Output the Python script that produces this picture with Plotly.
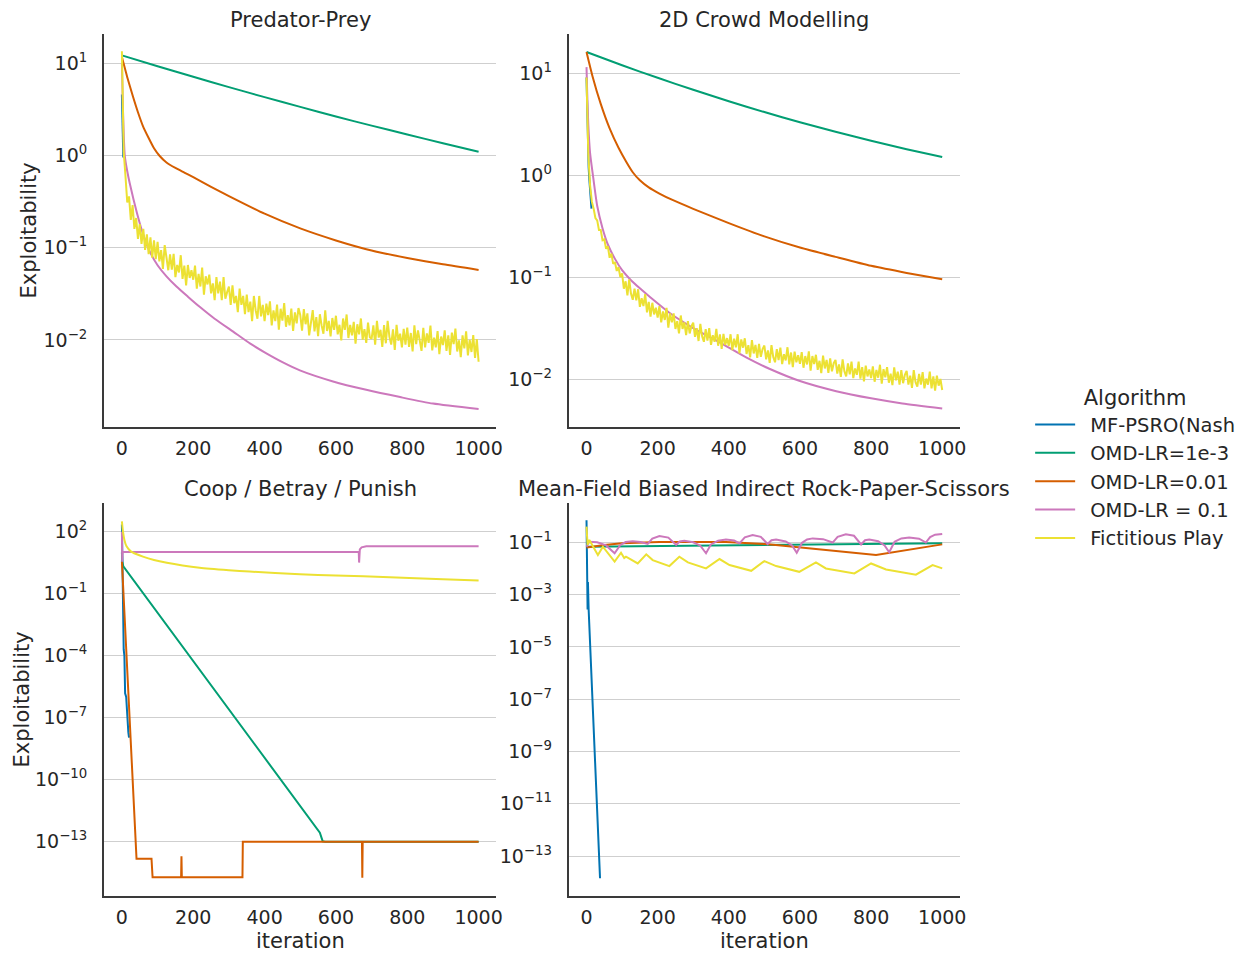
import plotly.graph_objects as go

# ---------------- data ----------------
algorithms = ["MF-PSRO(Nash", "OMD-LR=1e-3", "OMD-LR=0.01", "OMD-LR = 0.1", "Fictitious Play"]
colors = ["#0173b2", "#029e73", "#d55e00", "#cc78bc", "#ece133"]
panel_titles = ["Predator-Prey", "2D Crowd Modelling", "Coop / Betray / Punish",
                "Mean-Field Biased Indirect Rock-Paper-Scissors"]
x_ticks = [0, 200, 400, 600, 800, 1000]

# --- Predator-Prey
pp_psro_x = [0, 1, 2, 3, 4]
pp_psro_y = [4.6, 2.6, 1.6, 1.1, 0.95]
pp_omd3_x = [0, 100, 200, 300, 400, 500, 600, 700, 800, 900, 1000]
pp_omd3_y = [12.2, 9.31, 7.14, 5.52, 4.30, 3.37, 2.65, 2.11, 1.69, 1.36, 1.10]
pp_omd01_x = [0, 15, 31, 45, 59, 75, 90, 106, 125, 150, 175, 200, 250, 300, 400, 500, 600, 700, 800, 900, 1000]
pp_omd01_y = [11.7, 7.08, 4.37, 2.95, 2.09, 1.55, 1.20, 0.989, 0.841, 0.733, 0.653, 0.582, 0.457,
              0.363, 0.234, 0.162, 0.120, 0.0933, 0.0776, 0.0661, 0.0575]
pp_omd1_x = [0, 3, 8, 15, 22, 42, 60, 78, 100, 125, 153, 185, 218, 260, 312, 360, 405, 450, 499,
             592, 685, 780, 872, 1000]
pp_omd1_y = [10, 3.16, 1.0, 0.676, 0.501, 0.240, 0.138, 0.0912, 0.0646, 0.0490, 0.0380, 0.0295,
             0.0229, 0.0170, 0.0123, 0.00912, 0.00716, 0.00575, 0.00468, 0.00355, 0.00288, 0.0024,
             0.00204, 0.00178]
pp_fp_y = [
    13.5, 1.1, 0.6, 0.31, 0.36, 0.2, 0.29, 0.16, 0.21, 0.125, 0.18, 0.11, 0.16, 0.095, 0.14, 0.085, 0.13, 0.078, 0.12, 0.075,
    0.116, 0.071, 0.094, 0.059, 0.107, 0.072, 0.057, 0.085, 0.058, 0.086, 0.048, 0.065, 0.054, 0.083, 0.046, 0.064, 0.039, 0.065, 0.047, 0.057,
    0.045, 0.064, 0.036, 0.052, 0.038, 0.061, 0.031, 0.049, 0.040, 0.051, 0.032, 0.041, 0.027, 0.048, 0.032, 0.043, 0.027, 0.048, 0.028, 0.033,
    0.038, 0.024, 0.039, 0.025, 0.030, 0.020, 0.036, 0.024, 0.030, 0.019, 0.031, 0.020, 0.026, 0.016, 0.030, 0.021, 0.017, 0.030, 0.018, 0.024,
    0.016, 0.0248, 0.0186, 0.0262, 0.0144, 0.0209, 0.016, 0.0242, 0.0129, 0.0218, 0.0162, 0.0251, 0.0139, 0.0186, 0.0144, 0.0219, 0.0125, 0.0199, 0.0151, 0.0222,
    0.0187, 0.0126, 0.0216, 0.0148, 0.0194, 0.0112, 0.0166, 0.0211, 0.0124, 0.0177, 0.011, 0.019, 0.0143, 0.0117, 0.0209, 0.0125, 0.0161, 0.0109, 0.0173, 0.0129,
    0.0183, 0.0115, 0.0146, 0.0099, 0.0171, 0.0129, 0.0189, 0.0105, 0.0146, 0.0112, 0.0157, 0.0091, 0.0148, 0.0115, 0.0171, 0.0101, 0.0131, 0.0093, 0.0154, 0.0107,
    0.0103, 0.0144, 0.0089, 0.0161, 0.0106, 0.0129, 0.0084, 0.0145, 0.0092, 0.0161, 0.0108, 0.0089, 0.013, 0.0078, 0.0146, 0.0098, 0.0117, 0.0083, 0.0132, 0.0089,
    0.0136, 0.0084, 0.0119, 0.0075, 0.0144, 0.009, 0.0127, 0.01, 0.0076, 0.0135, 0.0083, 0.0118, 0.0093, 0.0143, 0.0077, 0.0106, 0.0083, 0.0125, 0.007, 0.0109,
    0.0088, 0.0127, 0.0076, 0.0112, 0.0069, 0.012, 0.009, 0.0133, 0.0075, 0.0099, 0.0065, 0.0112, 0.0081, 0.0124, 0.0068, 0.01, 0.0074, 0.0113, 0.0064, 0.0102,
    0.0058]

# --- 2D Crowd Modelling
cr_psro_x = [0, 2, 4, 6, 8, 10, 12, 14]
cr_psro_y = [9.1, 3.5, 1.8, 1.2, 0.9, 0.65, 0.5, 0.47]
cr_omd3_x = [0, 100, 200, 300, 400, 500, 600, 700, 800, 900, 1000]
cr_omd3_y = [16.2, 12.0, 9.04, 6.89, 5.32, 4.17, 3.31, 2.67, 2.18, 1.80, 1.51]
cr_omd01_x = [0, 17, 40, 65, 90, 112, 130, 150, 175, 205, 240, 300, 400, 500, 600, 700, 800, 900, 1000]
cr_omd01_y = [16.2, 9.33, 5.01, 2.88, 1.86, 1.35, 1.07, 0.891, 0.759, 0.661, 0.575, 0.468, 0.339,
              0.251, 0.195, 0.158, 0.129, 0.110, 0.0955]
cr_omd1_x = [0, 2, 5, 10, 18, 30, 45, 60, 80, 100, 125, 150, 180, 233, 300, 374, 450, 514, 600, 702,
             800, 888, 1000]
cr_omd1_y = [11.5, 6.31, 3.16, 1.66, 1.0, 0.501, 0.302, 0.209, 0.151, 0.117, 0.0933, 0.0776,
             0.0631, 0.0447, 0.0316, 0.0229, 0.0162, 0.0126, 0.00955, 0.00759, 0.00646, 0.00575,
             0.00513]
cr_fp_y = [
    9.1, 1.6, 0.8, 0.55, 0.47, 0.38, 0.36, 0.29, 0.29, 0.23, 0.235, 0.19, 0.2, 0.155, 0.17, 0.135, 0.14, 0.115, 0.125, 0.1,
    0.109, 0.077, 0.091, 0.066, 0.095, 0.069, 0.060, 0.077, 0.059, 0.076, 0.051, 0.062, 0.052, 0.068, 0.045, 0.057, 0.041, 0.056, 0.043, 0.050,
    0.040, 0.052, 0.036, 0.046, 0.038, 0.050, 0.032, 0.044, 0.036, 0.044, 0.031, 0.037, 0.028, 0.042, 0.031, 0.036, 0.027, 0.037, 0.028, 0.033,
    0.0357, 0.0259, 0.0315, 0.0236, 0.0348, 0.0262, 0.0232, 0.0308, 0.0238, 0.0315, 0.0216, 0.0269, 0.0232, 0.0311, 0.0212, 0.0274, 0.0197, 0.0277, 0.0216, 0.0252,
    0.0211, 0.0275, 0.0192, 0.0249, 0.0205, 0.0275, 0.0178, 0.0245, 0.0203, 0.0251, 0.0176, 0.0215, 0.0163, 0.0241, 0.0178, 0.0216, 0.0161, 0.0221, 0.0165, 0.0197,
    0.0213, 0.0156, 0.0191, 0.0144, 0.0215, 0.0164, 0.0146, 0.0196, 0.0153, 0.0203, 0.014, 0.0175, 0.0152, 0.0205, 0.0139, 0.0182, 0.0131, 0.0186, 0.0146, 0.0171,
    0.0141, 0.0184, 0.0129, 0.0168, 0.0139, 0.0187, 0.0121, 0.0168, 0.014, 0.0173, 0.0123, 0.0151, 0.0114, 0.017, 0.0127, 0.0154, 0.0115, 0.0159, 0.0119, 0.0143,
    0.0154, 0.0113, 0.0139, 0.0105, 0.0156, 0.0119, 0.0106, 0.0142, 0.0111, 0.0148, 0.0102, 0.0127, 0.011, 0.0148, 0.0101, 0.0131, 0.0095, 0.0135, 0.0106, 0.0124,
    0.0102, 0.0133, 0.0094, 0.0123, 0.0103, 0.0138, 0.009, 0.0125, 0.0104, 0.0131, 0.0092, 0.0113, 0.0087, 0.013, 0.0097, 0.0118, 0.0088, 0.0122, 0.0091, 0.011,
    0.012, 0.0088, 0.0108, 0.0082, 0.0122, 0.0093, 0.0084, 0.0112, 0.0088, 0.0117, 0.0081, 0.0101, 0.0088, 0.0118, 0.0081, 0.0106, 0.0077, 0.0108, 0.0086, 0.01,
    0.0078]

# --- Coop / Betray / Punish
cbp_psro_x = [0, 1, 2, 3, 5, 7, 9, 12, 15, 18, 20]
cbp_psro_y = [220, 2, 0.017, 0.02, 2e-4, 1e-4, 1.5e-6, 1e-6, 1e-7, 2e-8, 1.1e-8]
cbp_omd3_x = [0, 1, 4, 555, 560, 563, 570, 1000]
cbp_omd3_y = [10, 3.6, 2.1, 2.75e-13, 1.5e-13, 1.05e-13, 1.0e-13, 1.0e-13]
cbp_omd01_x = [0, 41, 83, 86, 166, 167, 168, 338, 339, 673, 674, 675, 1000]
cbp_omd01_y = [3.6, 1.5e-14, 1.5e-14, 1.9e-15, 1.9e-15, 2.0e-14, 1.9e-15, 1.9e-15, 1.0e-13,
               1.0e-13, 1.8e-15, 1.0e-13, 1.0e-13]
cbp_omd1_x = [0, 1, 2, 664, 665, 667, 672, 685, 1000]
cbp_omd1_y = [100, 3.5, 10.5, 10.5, 3.2, 14, 17.5, 19.5, 19.5]
cbp_fp_x = [0, 3, 7, 13, 25, 40, 59, 90, 126, 170, 218, 300, 358, 499, 600, 751, 900, 1000]
cbp_fp_y = [316, 100, 40, 19.5, 11.2, 8.3, 6.2, 4.3, 3.16, 2.34, 1.82, 1.38, 1.17, 0.87, 0.76,
            0.63, 0.5, 0.43]

# --- Mean-Field Biased Indirect Rock-Paper-Scissors
rps_psro_x = [0, 1, 2, 3, 4, 6, 38]
rps_psro_y = [0.7, 2.3e-3, 4e-3, 2.7e-4, 3e-3, 2.7e-4, 1.4e-14]
rps_omd3_x = [0, 500, 1000]
rps_omd3_y = [0.0676, 0.0794, 0.0912]
rps_omd01_x = [0, 50, 100, 205, 392, 504, 814, 1000]
rps_omd01_y = [0.063, 0.0794, 0.0912, 0.102, 0.102, 0.0851, 0.0324, 0.0832]
rps_omd1_x = [0, 8, 30, 55, 79, 95, 110, 130, 152, 172, 185, 205, 230, 252, 262, 275, 300, 320, 336,
              350, 370, 392, 415, 430, 445, 467, 490, 509, 520, 533, 560, 578, 591, 606, 620, 636,
              665, 692, 706, 729, 752, 772, 783, 795, 820, 838, 851, 866, 885, 907, 935, 954, 966,
              980, 1000]
rps_omd1_y = [0.0676, 0.105, 0.1, 0.0759, 0.038, 0.0794, 0.102, 0.110, 0.102, 0.0861, 0.138, 0.174,
              0.151, 0.0794, 0.107, 0.115, 0.1, 0.0741, 0.038, 0.0832, 0.115, 0.129, 0.117, 0.0912,
              0.155, 0.191, 0.162, 0.0861, 0.120, 0.129, 0.107, 0.0759, 0.0398, 0.0955, 0.129, 0.141,
              0.132, 0.0977, 0.162, 0.204, 0.178, 0.0832, 0.120, 0.129, 0.110, 0.0759, 0.0417, 0.105,
              0.141, 0.151, 0.138, 0.0977, 0.158, 0.195, 0.209]
rps_fp_x = [0, 3, 8, 32, 46, 79, 97, 106, 111, 144, 168, 186, 233, 261, 285, 336, 374, 402, 463,
            500, 533, 598, 645, 673, 753, 800, 842, 926, 973, 1000]
rps_fp_y = [0.398, 0.0794, 0.123, 0.0324, 0.0676, 0.0182, 0.0398, 0.0251, 0.0282, 0.0155, 0.0347,
            0.0209, 0.0123, 0.0282, 0.017, 0.01, 0.0229, 0.0135, 0.00813, 0.0191, 0.0123, 0.00741,
            0.017, 0.01, 0.00646, 0.0155, 0.00912, 0.00575, 0.0135, 0.01]

pp_fp_x = [5 * i for i in range(len(pp_fp_y))]
cr_fp_x = [5 * i for i in range(len(cr_fp_y))]

panel_series = [
    [(pp_psro_x, pp_psro_y), (pp_omd3_x, pp_omd3_y), (pp_omd01_x, pp_omd01_y),
     (pp_omd1_x, pp_omd1_y), (pp_fp_x, pp_fp_y)],
    [(cr_psro_x, cr_psro_y), (cr_omd3_x, cr_omd3_y), (cr_omd01_x, cr_omd01_y),
     (cr_omd1_x, cr_omd1_y), (cr_fp_x, cr_fp_y)],
    [(cbp_psro_x, cbp_psro_y), (cbp_omd3_x, cbp_omd3_y), (cbp_omd01_x, cbp_omd01_y),
     (cbp_omd1_x, cbp_omd1_y), (cbp_fp_x, cbp_fp_y)],
    [(rps_psro_x, rps_psro_y), (rps_omd3_x, rps_omd3_y), (rps_omd01_x, rps_omd01_y),
     (rps_omd1_x, rps_omd1_y), (rps_fp_x, rps_fp_y)],
]
# smooth curves drawn as splines
smooth = {(0, 1), (0, 2), (0, 3), (1, 1), (1, 2), (1, 3), (2, 4)}

y_tick_exps = [
    [1, 0, -1, -2],
    [1, 0, -1, -2],
    [2, -1, -4, -7, -10, -13],
    [-1, -3, -5, -7, -9, -11, -13],
]

# ---------------- layout / style ----------------
W, H = 1246, 956
SX = 1.004  # small horizontal correction of pixel placements
FONT = "DejaVu Sans"
TXT = "#262626"
TICK_SIZE = 19
LABEL_SIZE = 21
panel_px = [  # x0, x1, y0(top), y1(bottom) in pixels
    (104.15, 496.85, 34, 427),
    (569.2, 960.8, 34, 427),
    (104.15, 496.85, 503, 896),
    (569.2, 960.8, 503, 896),
]
y_ranges = [[-2.944, 1.318], [-2.471, 1.386], [-15.627, 3.388], [-14.53, 0.503]]


def px(x):
    return x * SX / W


def sup(e):
    s = str(e).replace("-", "\u2212")
    return "10<sup>" + s + "</sup>"


GAP = "\u00a0\u2009"
fig = go.Figure()
for p, series in enumerate(panel_series):
    ax = "" if p == 0 else str(p + 1)
    for i, (xs, ys) in enumerate(series):
        fig.add_trace(go.Scatter(
            x=xs, y=ys, mode="lines", name=GAP + algorithms[i], legendgroup=algorithms[i],
            showlegend=(p == 0), xaxis="x" + ax, yaxis="y" + ax,
            line=dict(color=colors[i], width=2,
                      shape="spline" if (p, i) in smooth else "linear",
                      smoothing=0.6),
            hoverinfo="skip",
        ))

layout = dict(
    width=W, height=H, autosize=False,
    margin=dict(l=0, r=0, t=0, b=0),
    paper_bgcolor="white", plot_bgcolor="white",
    font=dict(family=FONT, color=TXT, size=TICK_SIZE),
    showlegend=True,
    legend=dict(
        x=px(1031), xanchor="left", y=1 - 378 / H, yanchor="top",
        bgcolor="rgba(0,0,0,0)", font=dict(size=19.5, family=FONT, color=TXT),
        title=dict(text="Algorithm", side="top center",
                   font=dict(size=LABEL_SIZE, family=FONT, color=TXT)),
        itemwidth=40, tracegroupgap=0,
    ),
    annotations=[],
)
for p in range(4):
    ax = "" if p == 0 else str(p + 1)
    x0, x1, y0, y1 = panel_px[p]
    exps = y_tick_exps[p]
    layout["xaxis" + ax] = dict(
        domain=[px(x0), px(x1)], anchor="y" + ax, range=[-50, 1050],
        showgrid=False, zeroline=False, showline=True, linecolor="#3a3a3a", linewidth=2,
        tickvals=x_ticks, ticks="", ticklabelstandoff=3,
        tickfont=dict(size=TICK_SIZE, family=FONT, color=TXT),
    )
    layout["yaxis" + ax] = dict(
        domain=[1 - y1 / H, 1 - y0 / H], anchor="x" + ax, type="log", range=y_ranges[p],
        showgrid=True, gridcolor="#cfcfcf", gridwidth=1, zeroline=False,
        showline=True, linecolor="#3a3a3a", linewidth=2,
        tickvals=[10.0 ** e for e in exps], ticktext=[sup(e) for e in exps],
        ticks="", ticklabelstandoff=11,
        tickfont=dict(size=TICK_SIZE, family=FONT, color=TXT),
    )
    layout["annotations"].append(dict(
        text=panel_titles[p], x=px((x0 + x1) / 2), y=1 - (y0 - 14) / H,
        xref="paper", yref="paper", xanchor="center", yanchor="middle",
        showarrow=False, font=dict(size=LABEL_SIZE, family=FONT, color=TXT)))

for p in (2, 3):
    x0, x1, y0, y1 = panel_px[p]
    layout["annotations"].append(dict(
        text="iteration", x=px((x0 + x1) / 2), y=1 - 941 / H, xref="paper", yref="paper",
        xanchor="center", yanchor="middle", showarrow=False,
        font=dict(size=LABEL_SIZE, family=FONT, color=TXT)))
for p, xc in ((0, 30), (2, 22)):
    x0, x1, y0, y1 = panel_px[p]
    layout["annotations"].append(dict(
        text="Exploitability", x=px(xc), y=1 - (y0 + y1) / 2 / H, xref="paper", yref="paper",
        xanchor="center", yanchor="middle", textangle=-90, showarrow=False,
        font=dict(size=LABEL_SIZE, family=FONT, color=TXT)))

fig.update_layout(**layout)
fig.write_html("out.html", config={"displayModeBar": False},
               post_script="document.body.style.margin='0';")
